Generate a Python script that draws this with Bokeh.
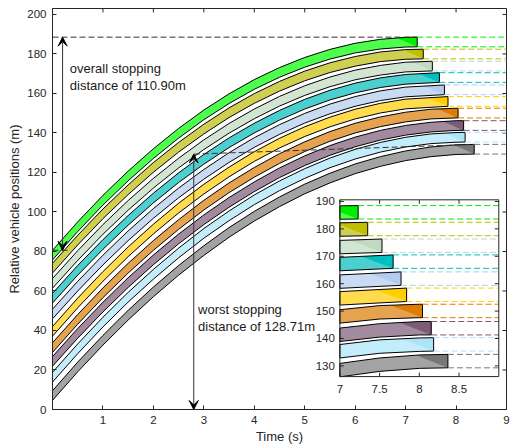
import numpy as np
from bokeh.plotting import figure
from bokeh.models import Range1d, FixedTicker, Arrow, VeeHead
from bokeh.core.properties import value
from bokeh.embed import file_html
from bokeh.resources import INLINE

# ---------------- data ----------------
time_s = [0, 0.5, 1, 1.5, 2, 2.5, 3, 3.5, 4, 4.5, 5, 5.5, 6, 6.5, 7, 7.5, 8]
stop_time = [7.23, 7.35, 7.53, 7.67, 7.77, 7.84, 8.04, 8.15, 8.18, 8.36]
stop_front = [188.5, 182.4, 176.3, 170.5, 164.3, 158.4, 152.5, 146.2, 140.3, 134.2]
front_v1 = [80.6, 95.0, 108.4, 120.7, 132.0, 142.3, 151.6, 159.8, 167.0, 173.1, 178.2, 182.3, 185.4, 187.4, 188.4]
front_v2 = [74.0, 88.2, 101.5, 113.7, 125.0, 135.2, 144.4, 152.7, 159.9, 166.1, 171.3, 175.5, 178.7, 181.0, 182.2]
front_v3 = [66.3, 80.4, 93.6, 105.8, 117.0, 127.2, 136.5, 144.8, 152.1, 158.5, 163.9, 168.3, 171.8, 174.2, 175.8]
front_v4 = [58.8, 72.9, 86.0, 98.2, 109.5, 119.8, 129.1, 137.5, 144.9, 151.4, 157.0, 161.6, 165.2, 167.9, 169.6]
front_v5 = [50.8, 64.9, 78.1, 90.4, 101.7, 112.1, 121.5, 130.0, 137.6, 144.2, 149.9, 154.6, 158.4, 161.3, 163.2]
front_v6 = [42.0, 56.4, 69.8, 82.3, 93.8, 104.4, 114.0, 122.7, 130.5, 137.3, 143.1, 148.0, 152.0, 155.0, 157.1]
front_v7 = [33.8, 48.1, 61.5, 74.0, 85.5, 96.1, 105.9, 114.7, 122.5, 129.5, 135.5, 140.7, 144.9, 148.1, 150.5, 152.0, 152.5]
front_v8 = [26.8, 41.0, 54.3, 66.7, 78.2, 88.8, 98.5, 107.3, 115.2, 122.3, 128.4, 133.6, 137.9, 141.3, 143.8, 145.4, 146.2]
front_v9 = [18.8, 33.2, 46.7, 59.3, 70.9, 81.7, 91.6, 100.5, 108.6, 115.7, 121.9, 127.3, 131.7, 135.2, 137.8, 139.5, 140.2]
front_v10 = [9.5, 24.0, 37.5, 50.2, 62.0, 72.9, 82.9, 92.1, 100.3, 107.6, 114.1, 119.6, 124.3, 128.0, 130.9, 132.9, 134.0]
front_pos = [front_v1, front_v2, front_v3, front_v4, front_v5,
             front_v6, front_v7, front_v8, front_v9, front_v10]
vehicle_length = 4.9

light_colors = ["#4dff4d", "#cfcf52", "#d2e4d2", "#4ccfcf", "#c9dbf3",
                "#ffdb4d", "#e6a34f", "#a28b9e", "#c3edfb", "#a3a3a3"]
dark_colors = ["#00ee00", "#bfbf00", "#c0d9c0", "#00bfbf", "#b3cbef",
               "#ffd000", "#e07b00", "#7d5a78", "#ace5f8", "#777777"]

x_ticks = [1, 2, 3, 4, 5, 6, 7, 8, 9]
y_ticks = [0, 20, 40, 60, 80, 100, 120, 140, 160, 180, 200]
inset_x_ticks = [7, 7.5, 8, 8.5]
inset_y_ticks = [130, 140, 150, 160, 170, 180, 190]

overall_label = "overall stopping\ndistance of 110.90m"
worst_label = "worst stopping\ndistance of 128.71m"
overall_arrow_t = 0.2
worst_arrow_t = 2.8

# ranges
t_min, t_max = 0, 9
pos_min, pos_max = 0, 203
inset_t = (7, 9)
inset_pos = (126.1, 190.6)
inset_box_t = (5.697, 8.847)      # inset frame location in main data units
inset_box_pos = (16.66, 106.15)

AX = "#262626"
FONT = "Liberation Sans"
shade_dt = 0.4

# ---------------- geometry helpers ----------------
bands_x, bands_y, tri_x, tri_y = [], [], [], []
for i in range(len(front_pos)):
    n = len(front_pos[i])
    t = time_s[:n] + [stop_time[i]]
    f = front_pos[i] + [stop_front[i]]
    r = [v - vehicle_length for v in f]
    bands_x.append(t + t[::-1])
    bands_y.append(f + r[::-1])
    ta = stop_time[i] - shade_dt
    fa = float(np.interp(ta, t, f))
    tri_x.append([ta, stop_time[i], stop_time[i]])
    tri_y.append([fa, stop_front[i], stop_front[i] - vehicle_length])


def clip_poly(xs, ys, x0, x1, y0, y1):
    pts = list(zip(xs, ys))

    def clip(pts, inside, inter):
        out = []
        for k in range(len(pts)):
            cur, prev = pts[k], pts[k - 1]
            if inside(cur):
                if not inside(prev):
                    out.append(inter(prev, cur))
                out.append(cur)
            elif inside(prev):
                out.append(inter(prev, cur))
        return out

    def ix(xc):
        return lambda p, q: (xc, p[1] + (q[1] - p[1]) * (xc - p[0]) / (q[0] - p[0]))

    def iy(yc):
        return lambda p, q: (p[0] + (q[0] - p[0]) * (yc - p[1]) / (q[1] - p[1]), yc)

    for inside, inter in [(lambda p: p[0] >= x0, ix(x0)), (lambda p: p[0] <= x1, ix(x1)),
                          (lambda p: p[1] >= y0, iy(y0)), (lambda p: p[1] <= y1, iy(y1))]:
        if not pts:
            break
        pts = clip(pts, inside, inter)
    return [p[0] for p in pts], [p[1] for p in pts]


# ---------------- main figure ----------------
p = figure(width=510, height=446, x_range=Range1d(t_min, t_max), y_range=Range1d(pos_min, pos_max),
           output_backend="svg", toolbar_location=None,
           min_border_left=52, min_border_right=4, min_border_top=8, min_border_bottom=0)
p.grid.visible = False
p.outline_line_color = AX
p.background_fill_color = "white"
p.border_fill_color = "white"

xa, ya = p.xaxis[0], p.yaxis[0]
xa.ticker = FixedTicker(ticks=x_ticks)
ya.ticker = FixedTicker(ticks=y_ticks)
xa.axis_label = "Time (s)"
ya.axis_label = "Relative vehicle positions (m)"
for ax in (xa, ya):
    ax.major_tick_in = 4
    ax.major_tick_out = 0
    ax.minor_tick_line_color = None
    ax.axis_line_color = AX
    ax.major_tick_line_color = AX
    ax.major_label_text_color = AX
    ax.major_label_text_font = FONT
    ax.major_label_text_font_size = "11.5px"
    ax.axis_label_text_font = FONT
    ax.axis_label_text_font_size = "13px"
    ax.axis_label_text_font_style = "normal"
    ax.axis_label_text_color = AX
xa.major_label_standoff = 6
xa.axis_label_standoff = 2
ya.major_label_standoff = 6
ya.axis_label_standoff = 2

# mirrored ticks on top and right (inward)
top_tick = 2.0
right_tick = 0.08
p.segment(x0=x_ticks, y0=[pos_max] * len(x_ticks), x1=x_ticks,
          y1=[pos_max - top_tick] * len(x_ticks), line_color=AX)
p.segment(x0=[t_max] * len(y_ticks), y0=y_ticks, x1=[t_max - right_tick] * len(y_ticks),
          y1=y_ticks, line_color=AX)

p.patches(bands_x, bands_y, fill_color=light_colors, line_color=None)
p.patches(tri_x, tri_y, fill_color=dark_colors, line_color=None)
p.patches(bands_x, bands_y, fill_color=None, line_color="black", line_width=1)

# stop-position dashed guides
seg_x0 = stop_time + stop_time
seg_y = stop_front + [s - vehicle_length for s in stop_front]
seg_c = dark_colors + dark_colors
p.segment(x0=seg_x0, y0=seg_y, x1=[t_max] * len(seg_x0), y1=seg_y,
          line_color=seg_c, line_dash="6 3", line_width=1)

# annotation guides
p.segment(x0=[t_min, worst_arrow_t, t_min],
          y0=[stop_front[0], stop_front[-1] - vehicle_length, front_v1[0]],
          x1=[stop_time[0], stop_time[-1], overall_arrow_t + 0.1],
          y1=[stop_front[0], stop_front[-1], front_v1[0]],
          line_color="#333333", line_dash="6 3", line_width=1)

head = dict(size=9, fill_color="black", line_color="black", line_width=1)
p.add_layout(Arrow(start=VeeHead(**head), end=VeeHead(**head),
                   x_start=overall_arrow_t, y_start=front_v1[0],
                   x_end=overall_arrow_t, y_end=stop_front[0],
                   line_color="#333333", line_width=1))
p.add_layout(Arrow(start=VeeHead(**head), end=VeeHead(**head),
                   x_start=worst_arrow_t, y_start=pos_min,
                   x_end=worst_arrow_t, y_end=stop_front[-1] - vehicle_length,
                   line_color="#333333", line_width=1))

p.text(x=[0.343, 2.885], y=[176.5, 54.6], text=[overall_label, worst_label],
       text_font=value(FONT), text_font_size="13px", text_color="#1a1a1a",
       text_align="left", text_baseline="top", text_line_height=1.15)

# ---------------- inset ----------------
ins = p.subplot(x_source=Range1d(*inset_t), y_source=Range1d(*inset_pos),
                x_target=Range1d(*inset_box_t), y_target=Range1d(*inset_box_pos))
ins.quad(left=[inset_t[0]], right=[inset_t[1]], bottom=[inset_pos[0]], top=[inset_pos[1]],
         fill_color="white", line_color=None)

cb_x, cb_y, ct_x, ct_y = [], [], [], []
for i in range(len(front_pos)):
    a, b = clip_poly(bands_x[i], bands_y[i], inset_t[0], inset_t[1], inset_pos[0], inset_pos[1])
    cb_x.append(a); cb_y.append(b)
    a, b = clip_poly(tri_x[i], tri_y[i], inset_t[0], inset_t[1], inset_pos[0], inset_pos[1])
    ct_x.append(a); ct_y.append(b)

ins.patches(cb_x, cb_y, fill_color=light_colors, line_color=None)
ins.patches(ct_x, ct_y, fill_color=dark_colors, line_color=None)
ins.patches(cb_x, cb_y, fill_color=None, line_color="black", line_width=1)
ins.segment(x0=seg_x0, y0=seg_y, x1=[inset_t[1]] * len(seg_x0), y1=seg_y,
            line_color=seg_c, line_dash="6 3", line_width=1)

# inset frame, ticks and labels
ins.quad(left=[inset_t[0]], right=[inset_t[1]], bottom=[inset_pos[0]], top=[inset_pos[1]],
         fill_color=None, line_color=AX, line_width=1)
tx_len = 0.05
ty_len = 1.45
ins.segment(x0=[inset_t[0]] * len(inset_y_ticks), y0=inset_y_ticks,
            x1=[inset_t[0] + tx_len] * len(inset_y_ticks), y1=inset_y_ticks, line_color=AX)
ins.segment(x0=[inset_t[1]] * len(inset_y_ticks), y0=inset_y_ticks,
            x1=[inset_t[1] - tx_len] * len(inset_y_ticks), y1=inset_y_ticks, line_color=AX)
ins.segment(x0=inset_x_ticks, y0=[inset_pos[0]] * len(inset_x_ticks),
            x1=inset_x_ticks, y1=[inset_pos[0] + ty_len] * len(inset_x_ticks), line_color=AX)
ins.segment(x0=inset_x_ticks, y0=[inset_pos[1]] * len(inset_x_ticks),
            x1=inset_x_ticks, y1=[inset_pos[1] - ty_len] * len(inset_x_ticks), line_color=AX)
ins.text(x=[inset_t[0]] * len(inset_y_ticks), y=inset_y_ticks,
         text=[f"{v:g}" for v in inset_y_ticks], x_offset=-5,
         text_align="right", text_baseline="middle", text_font=value(FONT),
         text_font_size="11.5px", text_color=AX)
ins.text(x=inset_x_ticks, y=[inset_pos[0]] * len(inset_x_ticks),
         text=[f"{v:g}" for v in inset_x_ticks], y_offset=8,
         text_align="center", text_baseline="top", text_font=value(FONT),
         text_font_size="11.5px", text_color=AX)

open("out.html", "w").write(file_html(p, INLINE))
